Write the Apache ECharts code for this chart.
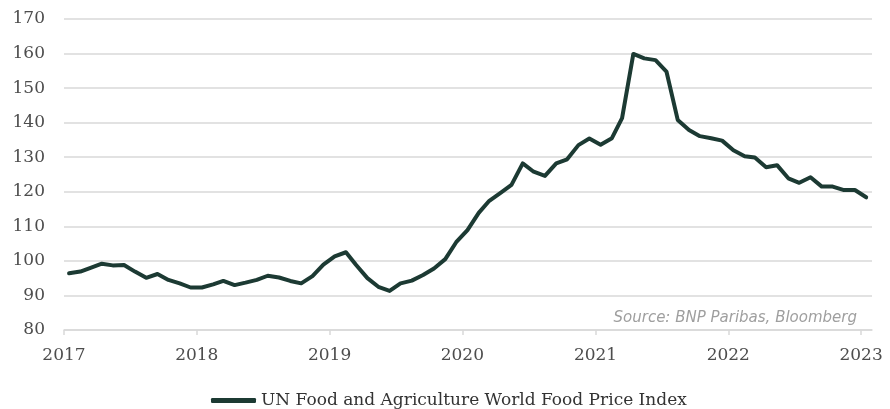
<!DOCTYPE html>
<html>
<head>
<meta charset="utf-8">
<script src="https://cdn.jsdelivr.net/npm/echarts@6/dist/echarts.min.js"></script>
<style>
html,body{margin:0;padding:0;background:#fff;}
#c{width:890px;height:409px;}
</style>
</head>
<body>
<div id="c"></div>
<script>
var months = [
'2017-01-15','2017-02-15','2017-03-15','2017-04-15','2017-05-15','2017-06-15','2017-07-15','2017-08-15','2017-09-15','2017-10-15','2017-11-15','2017-12-15',
'2018-01-15','2018-02-15','2018-03-15','2018-04-15','2018-05-15','2018-06-15','2018-07-15','2018-08-15','2018-09-15','2018-10-15','2018-11-15','2018-12-15',
'2019-01-15','2019-02-15','2019-03-15','2019-04-15','2019-05-15','2019-06-15','2019-07-15','2019-08-15','2019-09-15','2019-10-15','2019-11-15','2019-12-15',
'2020-01-15','2020-02-15','2020-03-15','2020-04-15','2020-05-15','2020-06-15','2020-07-15','2020-08-15','2020-09-15','2020-10-15','2020-11-15','2020-12-15',
'2021-01-15','2021-02-15','2021-03-15','2021-04-15','2021-05-15','2021-06-15','2021-07-15','2021-08-15','2021-09-15','2021-10-15','2021-11-15','2021-12-15',
'2022-01-15','2022-02-15','2022-03-15','2022-04-15','2022-05-15','2022-06-15','2022-07-15','2022-08-15','2022-09-15','2022-10-15','2022-11-15','2022-12-15',
'2023-01-15'
];
var foodIndex = [
96.4, 96.9, 98.0, 99.2, 98.7, 98.8, 96.9, 95.1, 96.2, 94.5, 93.5, 92.3,
92.3, 93.2, 94.2, 93.0, 93.7, 94.5, 95.7, 95.2, 94.2, 93.5, 95.6, 98.9,
101.3, 102.5, 98.8, 95.0, 92.5, 91.3, 93.5, 94.3, 95.9, 97.8, 100.5, 105.4,
108.9, 113.9, 117.4, 119.7, 122.0, 128.2, 125.8, 124.6, 128.2, 129.4, 133.5, 135.4,
133.6, 135.5, 141.3, 159.9, 158.6, 158.1, 154.8, 140.8, 137.9, 136.1, 135.5, 134.8,
132.0, 130.3, 129.9, 127.1, 127.7, 123.9, 122.6, 124.2, 121.5, 121.5, 120.5, 120.5,
118.4
];
var seriesName = 'UN Food and Agriculture World Food Price Index';
var sourceText = 'Source: BNP Paribas, Bloomberg';
var yMin = 80, yMax = 170, yStep = 10;
var xMin = '2017-01-01', xMax = '2023-01-31';

var chart = echarts.init(document.getElementById('c'), null, {renderer:'canvas'});
var serif = '"DejaVu Serif", serif';
chart.setOption({
  animation:false,
  backgroundColor:'#ffffff',
  grid:{left:64,right:18,top:19,bottom:79,containLabel:false},
  xAxis:{
    type:'time', min:xMin, max:xMax,
    axisLine:{show:true,lineStyle:{color:'#d9d9d9',width:1.5}},
    axisTick:{show:true,length:5,lineStyle:{color:'#d9d9d9',width:1.5}},
    splitLine:{show:false},
    axisLabel:{formatter:'{yyyy}',color:'#4d4d4d',fontFamily:serif,fontSize:17,margin:17,
      showMinLabel:true,showMaxLabel:false}
  },
  yAxis:{
    type:'value', min:yMin, max:yMax, interval:yStep,
    axisLine:{show:false}, axisTick:{show:false},
    splitLine:{lineStyle:{color:'#d9d9d9',width:1.5}},
    axisLabel:{color:'#4d4d4d',fontFamily:serif,fontSize:17,margin:19}
  },
  legend:{
    data:[seriesName], top:387, left:206,
    icon:'roundRect', itemWidth:45, itemHeight:5,
    textStyle:{color:'#333333',fontFamily:serif,fontSize:17}
  },
  graphic:[{
    type:'text', right:33, top:311,
    style:{text:sourceText, fill:'#9f9f9f', font:'italic 15px "DejaVu Sans", sans-serif'}
  }],
  series:[{
    name:seriesName, type:'line', showSymbol:false, symbol:'none',
    data: months.map(function(m,i){return [m, foodIndex[i]];}),
    lineStyle:{color:'#1c3a33',width:4,cap:'round',join:'round'},
    itemStyle:{color:'#1c3a33'}
  }]
});
</script>
</body>
</html>
